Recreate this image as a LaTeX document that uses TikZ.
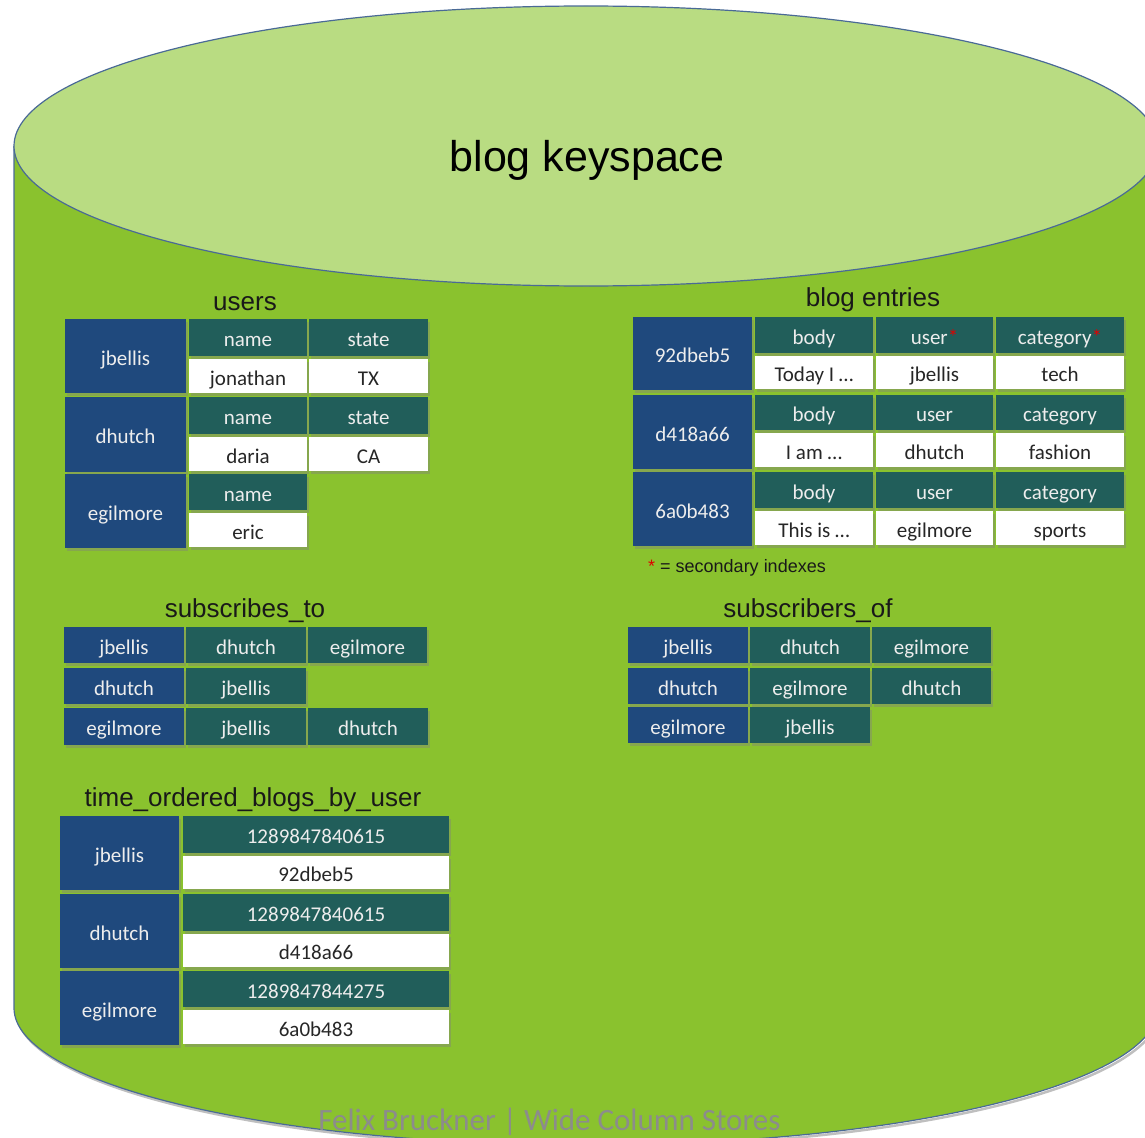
\documentclass[tikz,border=0pt]{standalone}
\usepackage{fontspec}
\setmainfont{Liberation Sans}
\newfontfamily\cellfont{Carlito}
\usetikzlibrary{shadows}
\definecolor{topgreen}{HTML}{B9DC82}
\definecolor{bodygreen}{HTML}{8AC22E}
\definecolor{rimblue}{HTML}{4A6A96}
\definecolor{keyblue}{HTML}{1F497D}
\definecolor{colteal}{HTML}{215E5A}
\definecolor{celltext}{HTML}{EDEDED}
\definecolor{valtext}{HTML}{262626}
\definecolor{marktext}{HTML}{8C8C8C}
\definecolor{starred}{HTML}{E00000}
\tikzset{
  cellbase/.style={inner sep=0pt, text height=20pt, text depth=2pt,
    font=\cellfont\fontsize{21}{24}\selectfont,
    drop shadow={shadow xshift=1.5pt, shadow yshift=-2.5pt, opacity=.4}},
  keycell/.style={cellbase, fill=keyblue, text=celltext},
  colcell/.style={cellbase, fill=colteal, text=celltext},
  valcell/.style={cellbase, fill=white, text=valtext},
  tabletitle/.style={font=\fontsize{26}{30}\selectfont, text=black!90, inner sep=0pt},
  rim/.style={draw=rimblue, line width=1.2pt},
}
\newcommand\mkcell[7]{\node[#6, minimum width={(#4-#2)*1pt}, minimum height={(#5-#3)*1pt}] (#1) at ({(#2+#4)/2},{(#3+#5)/2}) {#7};}
\newcommand\redstar{{\color{starred}*}}
\begin{document}
\begin{tikzpicture}[x=1pt,y=-1pt]
\useasboundingbox (0,0) rectangle (1145,1137);
\clip (0,0) rectangle (1145,1137);
% cylinder
\draw[black!25, line width=2.5pt] (16,1010) arc[start angle=180,end angle=0,x radius=572,y radius=137];
\fill[bodygreen] (14,146) -- (14,1008) arc[start angle=180,end angle=0,x radius=572,y radius=137] -- (1158,146) -- cycle;
\draw[rim] (14,146) -- (14,1008) arc[start angle=180,end angle=0,x radius=572,y radius=137];
\draw[rim, fill=topgreen] (586,146) ellipse[x radius=572, y radius=140];
\node[font=\fontsize{43}{48}\selectfont, inner sep=0pt] (ks) at (587,160) {blog keyspace};

% users
\node[tabletitle] (tusers) at (245,304) {users};
\mkcell{u1k}{65}{319}{186}{393}{keycell}{jbellis}
\mkcell{u1n}{189}{319}{307}{356}{colcell}{name}
\mkcell{u1s}{309}{319}{428}{356}{colcell}{state}
\mkcell{u1nv}{189}{359}{307}{393}{valcell}{jonathan}
\mkcell{u1sv}{309}{359}{428}{393}{valcell}{TX}
\mkcell{u2k}{65}{397}{186}{472}{keycell}{dhutch}
\mkcell{u2n}{189}{397}{307}{434}{colcell}{name}
\mkcell{u2s}{309}{397}{428}{434}{colcell}{state}
\mkcell{u2nv}{189}{437}{307}{471}{valcell}{daria}
\mkcell{u2sv}{309}{437}{428}{471}{valcell}{CA}
\mkcell{u3k}{65}{474}{186}{548}{keycell}{egilmore}
\mkcell{u3n}{189}{474}{307}{510}{colcell}{name}
\mkcell{u3nv}{189}{513}{307}{547}{valcell}{eric}

% blog entries
\node[tabletitle] (tblog) at (873,300) {blog entries};
\mkcell{b1k}{633}{317}{752}{390}{keycell}{92dbeb5}
\mkcell{b1b}{755}{317}{873}{353}{colcell}{body}
\mkcell{b1u}{876}{317}{993}{353}{colcell}{user\redstar}
\mkcell{b1c}{996}{317}{1124}{353}{colcell}{category\redstar}
\mkcell{b1bv}{755}{356}{873}{389}{valcell}{Today I …}
\mkcell{b1uv}{876}{356}{993}{389}{valcell}{jbellis}
\mkcell{b1cv}{996}{356}{1124}{389}{valcell}{tech}
\mkcell{b2k}{633}{395}{752}{469}{keycell}{d418a66}
\mkcell{b2b}{755}{395}{873}{430}{colcell}{body}
\mkcell{b2u}{876}{395}{993}{430}{colcell}{user}
\mkcell{b2c}{996}{395}{1124}{430}{colcell}{category}
\mkcell{b2bv}{755}{433}{873}{467}{valcell}{I am …}
\mkcell{b2uv}{876}{433}{993}{467}{valcell}{dhutch}
\mkcell{b2cv}{996}{433}{1124}{467}{valcell}{fashion}
\mkcell{b3k}{633}{472}{752}{546}{keycell}{6a0b483}
\mkcell{b3b}{755}{472}{873}{508}{colcell}{body}
\mkcell{b3u}{876}{472}{993}{508}{colcell}{user}
\mkcell{b3c}{996}{472}{1124}{508}{colcell}{category}
\mkcell{b3bv}{755}{511}{873}{545}{valcell}{This is …}
\mkcell{b3uv}{876}{511}{993}{545}{valcell}{egilmore}
\mkcell{b3cv}{996}{511}{1124}{545}{valcell}{sports}
\node[anchor=west, font=\fontsize{18}{20}\selectfont, inner sep=0pt, text=black!90] (sec) at (648,568) {\redstar{} = secondary indexes};

% subscribes_to
\node[tabletitle] (tsubto) at (245,611) {subscribes\_to};
\mkcell{s1k}{64}{627}{184}{663}{keycell}{jbellis}
\mkcell{s1a}{186}{627}{306}{663}{colcell}{dhutch}
\mkcell{s1b}{308}{627}{427}{663}{colcell}{egilmore}
\mkcell{s2k}{64}{668}{184}{704}{keycell}{dhutch}
\mkcell{s2a}{186}{668}{306}{704}{colcell}{jbellis}
\mkcell{s3k}{64}{708}{184}{745}{keycell}{egilmore}
\mkcell{s3a}{186}{708}{306}{745}{colcell}{jbellis}
\mkcell{s3b}{308}{708}{428}{745}{colcell}{dhutch}

% subscribers_of
\node[tabletitle] (tsubof) at (808,611) {subscribers\_of};
\mkcell{o1k}{628}{627}{748}{663}{keycell}{jbellis}
\mkcell{o1a}{750}{627}{870}{663}{colcell}{dhutch}
\mkcell{o1b}{872}{627}{991}{663}{colcell}{egilmore}
\mkcell{o2k}{628}{668}{748}{704}{keycell}{dhutch}
\mkcell{o2a}{750}{668}{870}{704}{colcell}{egilmore}
\mkcell{o2b}{872}{668}{991}{704}{colcell}{dhutch}
\mkcell{o3k}{628}{707}{748}{743}{keycell}{egilmore}
\mkcell{o3a}{750}{707}{870}{743}{colcell}{jbellis}

% time_ordered_blogs_by_user
\node[tabletitle] (ttime) at (253,800) {time\_ordered\_blogs\_by\_user};
\mkcell{t1k}{60}{816}{179}{890}{keycell}{jbellis}
\mkcell{t1h}{183}{816}{449}{853}{colcell}{1289847840615}
\mkcell{t1v}{183}{856}{449}{889}{valcell}{92dbeb5}
\mkcell{t2k}{60}{894}{179}{968}{keycell}{dhutch}
\mkcell{t2h}{183}{894}{449}{931}{colcell}{1289847840615}
\mkcell{t2v}{183}{934}{449}{967}{valcell}{d418a66}
\mkcell{t3k}{60}{971}{179}{1045}{keycell}{egilmore}
\mkcell{t3h}{183}{971}{449}{1007}{colcell}{1289847844275}
\mkcell{t3v}{183}{1010}{449}{1044}{valcell}{6a0b483}

% watermark
\node[anchor=base, inner sep=0pt, font=\cellfont\fontsize{31}{35}\selectfont, text=marktext] (wm) at (549.5,1130) {Felix Bruckner | Wide Column Stores};
\end{tikzpicture}
\end{document}
